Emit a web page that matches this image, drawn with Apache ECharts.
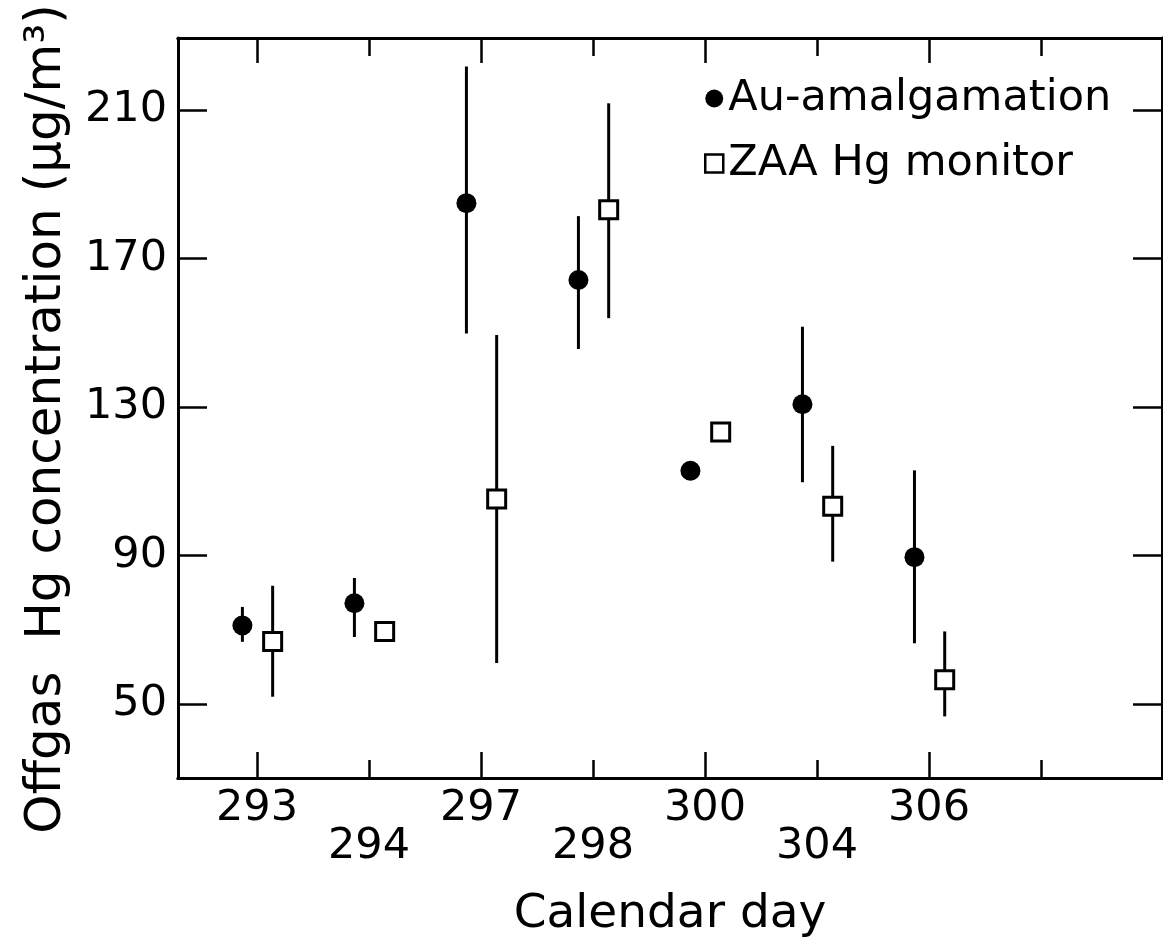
<!DOCTYPE html>
<html>
<head>
<meta charset="utf-8">
<script src="https://cdn.jsdelivr.net/npm/echarts@6/dist/echarts.min.js"></script>
<style>
  html, body { margin: 0; padding: 0; background: #fff; }
  #chart { width: 1163px; height: 949px; }
</style>
</head>
<body>
<div id="chart"></div>
<script>
// one slot per tick on the x axis, the last tick carries no label
const days = ['293', '294', '297', '298', '300', '304', '306', '']
const slots = [0, 1, 2, 3, 4, 5, 6, 7]

// Au-amalgamation (ug/m3), null = no error bar
const auValue = [71.1, 77.1, 184.9, 164.2, 112.8, 130.7, 89.5]
const auLow = [66.7, 68.0, 149.8, 145.6, null, 109.7, 66.3]
const auHigh = [76.1, 83.9, 221.7, 181.4, null, 151.6, 112.9]

// ZAA Hg monitor (ug/m3)
const zaaValue = [66.8, 69.5, 105.2, 183.1, 123.2, 103.2, 56.5]
const zaaLow = [51.9, null, 61.0, 153.9, null, 88.3, 46.6]
const zaaHigh = [81.8, null, 149.4, 211.8, null, 119.5, 69.5]

const yTicks = [50, 90, 130, 170, 210]
const longTicks = [0, 2, 4, 6]
const shortTicks = [1, 3, 5, 7]

const auShift = -0.13 // dots sit left of the day tick
const zaaShift = 0.14 // squares sit right of it

const font = 'DejaVu Sans'
const black = '#000'

const errorBars = (name, value, low, high, shift) => ({
    type: 'custom',
    name: name,
    silent: true,
    z: 1,
    encode: { x: 0, y: [1, 2] },
    data: value.map((v, i) => low[i] == null ? null : [slots[i] + shift, low[i], high[i]]).filter(d => d),
    renderItem: (params, api) => {
        const p1 = api.coord([api.value(0), api.value(1)])
        const p2 = api.coord([api.value(0), api.value(2)])
        return {
            type: 'line',
            shape: { x1: p1[0], y1: p1[1], x2: p2[0], y2: p2[1] },
            style: { stroke: black, lineWidth: 3 }
        }
    }
})

const xAxisBase = (position, ticks, length) => ({
    type: 'value',
    position: position,
    min: -0.705,
    max: 8.08,
    splitLine: { show: false },
    axisLine: { show: true, onZero: false, lineStyle: { color: black, width: 3 } },
    axisTick: { show: true, inside: true, length: length, customValues: ticks, lineStyle: { color: black, width: 2.5 } },
    axisLabel: { show: false }
})

const yAxisBase = (position) => ({
    type: 'value',
    position: position,
    min: 30,
    max: 229.4,
    splitLine: { show: false },
    axisLine: { show: true, onZero: false, lineStyle: { color: black, width: 3 } },
    axisTick: { show: true, inside: true, length: 29, customValues: yTicks, lineStyle: { color: black, width: 2.5 } },
    axisLabel: { show: false }
})

const dayLabel = (margin, values) => ({
    show: true,
    customValues: values,
    margin: margin,
    formatter: v => days[Math.round(v)],
    color: black,
    fontSize: 43,
    fontFamily: font
})

const initChart = () => {
    const myChart = echarts.init(document.getElementById('chart'))

    const xBottomLong = xAxisBase('bottom', longTicks, 26)
    xBottomLong.axisLabel = dayLabel(9, longTicks)
    xBottomLong.name = 'Calendar day'
    xBottomLong.nameLocation = 'middle'
    xBottomLong.nameGap = 113
    xBottomLong.nameTextStyle = { color: black, fontSize: 47, fontFamily: font }

    const xBottomShort = xAxisBase('bottom', shortTicks, 18)
    xBottomShort.axisLabel = dayLabel(47, [1, 3, 5])

    const yLeft = yAxisBase('left')
    yLeft.axisLabel = {
        show: true,
        customValues: yTicks,
        margin: 11,
        color: black,
        fontSize: 43,
        fontFamily: font
    }
    yLeft.name = 'Offgas  Hg concentration (\u03bcg/m\u00b3)'
    yLeft.nameLocation = 'middle'
    yLeft.nameGap = 106
    yLeft.nameTextStyle = { color: black, fontSize: 50, fontFamily: font, padding: [0, 22, 0, 0] }

    const option = {
        animation: false,
        backgroundColor: '#fff',
        grid: { left: 178, top: 38, width: 984, height: 740, containLabel: false, outerBoundsMode: 'none' },
        legend: {
            orient: 'vertical',
            left: 699,
            top: 72,
            itemGap: 22,
            itemWidth: 18,
            itemHeight: 18,
            textStyle: { color: black, fontSize: 43, fontFamily: font },
            data: [
                { name: 'Au-amalgamation', icon: 'circle', itemStyle: { color: black, borderWidth: 0 } },
                { name: 'ZAA Hg monitor', icon: 'rect', itemStyle: { color: '#fff', borderColor: black, borderWidth: 2.5 } }
            ]
        },
        xAxis: [
            xBottomLong,
            xBottomShort,
            xAxisBase('top', longTicks, 25),
            xAxisBase('top', shortTicks, 18)
        ],
        yAxis: [yLeft, yAxisBase('right')],
        series: [
            errorBars('Au error', auValue, auLow, auHigh, auShift),
            errorBars('ZAA error', zaaValue, zaaLow, zaaHigh, zaaShift),
            {
                name: 'Au-amalgamation',
                type: 'scatter',
                z: 3,
                symbol: 'circle',
                symbolSize: 20,
                itemStyle: { color: black, opacity: 1 },
                data: auValue.map((v, i) => [slots[i] + auShift, v])
            },
            {
                name: 'ZAA Hg monitor',
                type: 'scatter',
                z: 3,
                symbol: 'rect',
                symbolSize: 18,
                itemStyle: { color: '#fff', borderColor: black, borderWidth: 3, opacity: 1 },
                data: zaaValue.map((v, i) => [slots[i] + zaaShift, v])
            }
        ]
    }

    myChart.setOption(option)
}

initChart()
</script>
</body>
</html>
